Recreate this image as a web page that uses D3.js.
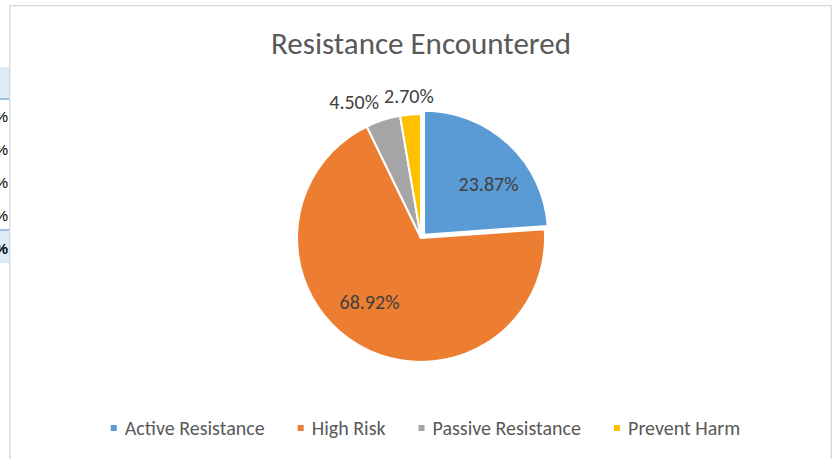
<!DOCTYPE html>
<html><head><meta charset="utf-8">
<script src="https://cdn.jsdelivr.net/npm/d3@7"></script>
<style>
html,body{margin:0;padding:0;background:#fff;}
svg{display:block;}
</style></head>
<body>
<svg id="chart" width="833" height="459"></svg>
<script>
const categories = ["Active Resistance", "High Risk", "Passive Resistance", "Prevent Harm"];
const values = [23.87, 68.92, 4.50, 2.70];
const labels = ["23.87%", "68.92%", "4.50%", "2.70%"];
const colors = ["#5b9bd5", "#ed7d31", "#a5a5a5", "#ffc000"];
const title = "Resistance Encountered";
const sideRowLabels = ["%", "%", "%", "%"];
const sideTotalLabel = "%";

const FONT = "Carlito, Calibri, 'Open Sans', sans-serif";
const svg = d3.select("#chart");

// left spreadsheet fragment (cells partly hidden behind the chart)
const frag = svg.append("g");
frag.append("rect").attr("x", 0).attr("y", 67).attr("width", 9).attr("height", 32).attr("fill", "#ddebf7");
frag.append("rect").attr("x", 0).attr("y", 98).attr("width", 9).attr("height", 2).attr("fill", "#9bc2e6");
frag.append("rect").attr("x", 0).attr("y", 229).attr("width", 9).attr("height", 2).attr("fill", "#9bc2e6");
frag.append("rect").attr("x", 0).attr("y", 231).attr("width", 9).attr("height", 32).attr("fill", "#ddebf7");
const rowY = d3.scaleLinear().domain([0, 3]).range([122, 221]);
sideRowLabels.forEach((t, i) => {
  frag.append("text").attr("x", 8).attr("y", rowY(i)).attr("text-anchor", "end")
    .attr("font-family", "Liberation Sans, Arial, sans-serif").attr("font-size", 15).attr("fill", "#000")
    .text(t);
});
frag.append("text").attr("x", 8).attr("y", 254).attr("text-anchor", "end")
  .attr("font-family", "Liberation Sans, Arial, sans-serif").attr("font-size", 15).attr("font-weight", "bold").attr("fill", "#000")
  .text(sideTotalLabel);

// chart area
svg.append("rect").attr("x", 9.5).attr("y", 5.5).attr("width", 822).attr("height", 470)
  .attr("fill", "#fff").attr("stroke", "#d9d9d9").attr("stroke-width", 1);
svg.append("rect").attr("x", 10.5).attr("y", 6.5).attr("width", 820).attr("height", 470)
  .attr("fill", "none").attr("stroke", "#efefef").attr("stroke-width", 1);

// title
svg.append("text").attr("x", 421).attr("y", 54).attr("text-anchor", "middle")
  .attr("font-family", FONT).attr("font-size", 31).attr("fill", "#595959").text(title);

// pie
const cx = 421, cy = 238, r = 124, explode = 4.5;
const data = categories.map((c, i) => ({ cat: c, value: values[i], label: labels[i], color: colors[i] }));
const pie = d3.pie().value(d => d.value).sort(null);
const arcs = pie(data);
const arc = d3.arc().innerRadius(0).outerRadius(r);
const outArc = d3.arc().innerRadius(r * 1.15).outerRadius(r * 1.15);
const inR = r * 0.66, inShift = 9 * Math.PI / 180;
const g = svg.append("g").attr("transform", `translate(${cx},${cy})`);

g.selectAll("path").data(arcs).join("path")
  .attr("d", arc)
  .attr("fill", d => d.data.color)
  .attr("stroke", "#fff").attr("stroke-width", 2).attr("stroke-linejoin", "round")
  .attr("transform", (d, i) => {
    if (i !== 0) return null;
    const a = (d.startAngle + d.endAngle) / 2;
    return `translate(${Math.sin(a) * explode},${-Math.cos(a) * explode})`;
  });

const lblG = svg.append("g").attr("transform", `translate(${cx},${cy})`);
const lbls = lblG.selectAll("text").data(arcs).join("text")
  .attr("font-family", FONT).attr("font-size", 20).attr("fill", "#404040")
  .attr("text-anchor", "middle").attr("dominant-baseline", "central")
  .attr("transform", (d, i) => {
    const inside = d.data.value >= 10;
    let p;
    if (inside) {
      const a = (d.startAngle + d.endAngle) / 2 + inShift;
      p = [Math.sin(a) * inR, -Math.cos(a) * inR];
    } else {
      p = outArc.centroid(d);
    }
    if (i === 0) {
      const a = (d.startAngle + d.endAngle) / 2;
      p[0] += Math.sin(a) * explode; p[1] -= Math.cos(a) * explode;
    }
    d.pos = p;
    return `translate(${p[0]},${p[1]})`;
  })
  .text(d => d.data.label);

// resolve overlaps of outside labels (shift earlier ones left)
const outside = arcs.map((d, i) => ({ d, node: lbls.nodes()[i] })).filter(o => o.d.data.value < 10);
for (let k = outside.length - 2; k >= 0; k--) {
  const a = outside[k], b = outside[k + 1];
  const wa = a.node.getComputedTextLength(), wb = b.node.getComputedTextLength();
  const rightA = a.d.pos[0] + wa / 2, leftB = b.d.pos[0] - wb / 2;
  const gap = 5;
  if (rightA > leftB - gap) {
    a.d.pos[0] -= rightA - (leftB - gap);
    d3.select(a.node).attr("transform", `translate(${a.d.pos[0]},${a.d.pos[1]})`);
  }
}

// legend
const leg = svg.append("g");
const item = leg.selectAll("g").data(data).join("g");
item.append("rect").attr("width", 6).attr("height", 6).attr("y", -3).attr("fill", d => d.color);
item.append("text").attr("x", 14).attr("dominant-baseline", "central")
  .attr("font-family", FONT).attr("font-size", 20).attr("fill", "#595959").text(d => d.cat);
let x = 0;
item.each(function () {
  const w = this.getBBox().width;
  d3.select(this).attr("transform", `translate(${x},0)`);
  x += w + 33;
});
const total = x - 33;
leg.attr("transform", `translate(${425.5 - total / 2},428)`);
</script>
</body></html>
